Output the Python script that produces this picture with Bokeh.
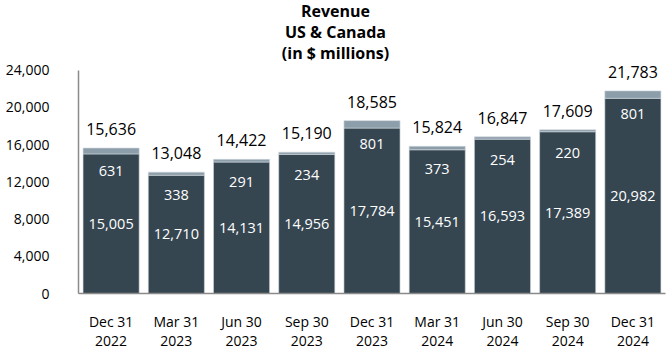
from bokeh.plotting import figure
from bokeh.models import ColumnDataSource, LabelSet, Label, FixedTicker, NumeralTickFormatter, FactorRange, Range1d
from bokeh.core.properties import value
from bokeh.embed import file_html
from bokeh.resources import INLINE

categories = ["Dec 31\n2022", "Mar 31\n2023", "Jun 30\n2023", "Sep 30\n2023", "Dec 31\n2023",
              "Mar 31\n2024", "Jun 30\n2024", "Sep 30\n2024", "Dec 31\n2024"]
base_values = [15005, 12710, 14131, 14956, 17784, 15451, 16593, 17389, 20982]
other_values = [631, 338, 291, 234, 801, 373, 254, 220, 801]
total_values = [15636, 13048, 14422, 15190, 18585, 15824, 16847, 17609, 21783]
y_ticks = [0, 4000, 8000, 12000, 16000, 20000, 24000]
title_lines = ["Revenue", "US & Canada", "(in $ millions)"]

FONT = "Open Sans"
DARK = "#364651"
LIGHT = "#8d9eab"

src = ColumnDataSource(dict(
    cat=categories,
    base=base_values,
    other=other_values,
    total=total_values,
    base_mid=[b / 2 for b in base_values],
    base_lbl=[f"{v:,}" for v in base_values],
    other_lbl=[f"{v:,}" for v in other_values],
    total_lbl=[f"{v:,}" for v in total_values],
))

p = figure(width=670, height=352, x_range=FactorRange(*categories), y_range=Range1d(0, 31500),
           output_backend="svg", toolbar_location=None,
           min_border_left=78, min_border_right=5, min_border_bottom=58, min_border_top=0)

# title lines as screen-positioned labels
for i, line in enumerate(title_lines):
    p.add_layout(Label(x=257, y=283 - 21 * i, x_units="screen", y_units="screen", text=line,
                       text_align="center", text_baseline="middle", text_font=FONT,
                       text_font_size="16px", text_font_style="bold", text_color="black"))

p.vbar(x="cat", bottom=0, top="base", width=0.86, source=src, fill_color=DARK, line_color="#d0d6db", line_width=0.6)
p.vbar(x="cat", bottom="base", top="total", width=0.86, source=src, fill_color=LIGHT, line_color="#d0d6db", line_width=0.6)

p.add_layout(LabelSet(x="cat", y="base_mid", text="base_lbl", source=src, text_align="center",
                      text_baseline="middle", text_color="white", text_font=value(FONT), text_font_size=value("14.5px")))
p.add_layout(LabelSet(x="cat", y="total", text="other_lbl", source=src, text_align="center", y_offset=-23,
                      text_baseline="middle", text_color="white", text_font=value(FONT), text_font_size=value("14.5px")))
p.add_layout(LabelSet(x="cat", y="total", text="total_lbl", source=src, text_align="center", y_offset=19,
                      text_baseline="middle", text_color="black", text_font=value(FONT), text_font_size=value("16px")))

p.xgrid.visible = False
p.ygrid.visible = False
p.outline_line_color = None

p.yaxis.ticker = FixedTicker(ticks=y_ticks)
p.yaxis.bounds = (0, 24000)
p.yaxis.formatter = NumeralTickFormatter(format="0,0")
p.yaxis.major_tick_line_color = None
p.yaxis.minor_tick_line_color = None
p.yaxis.major_label_standoff = 23
p.yaxis.axis_line_color = "#8a8a8a"
p.yaxis.axis_line_width = 1.5
p.yaxis.major_label_text_font = FONT
p.yaxis.major_label_text_font_size = "14px"
p.yaxis.major_label_text_color = "black"

p.xaxis.major_tick_line_color = None
p.xaxis.minor_tick_line_color = None
p.xaxis.major_label_standoff = 12
p.xaxis.axis_line_color = "#8a8a8a"
p.xaxis.axis_line_width = 1.5
p.xaxis.major_label_text_font = FONT
p.xaxis.major_label_text_font_size = "14px"
p.xaxis.major_label_text_line_height = 1.0
p.xaxis.major_label_text_color = "black"

open("out.html", "w").write(file_html(p, INLINE))
